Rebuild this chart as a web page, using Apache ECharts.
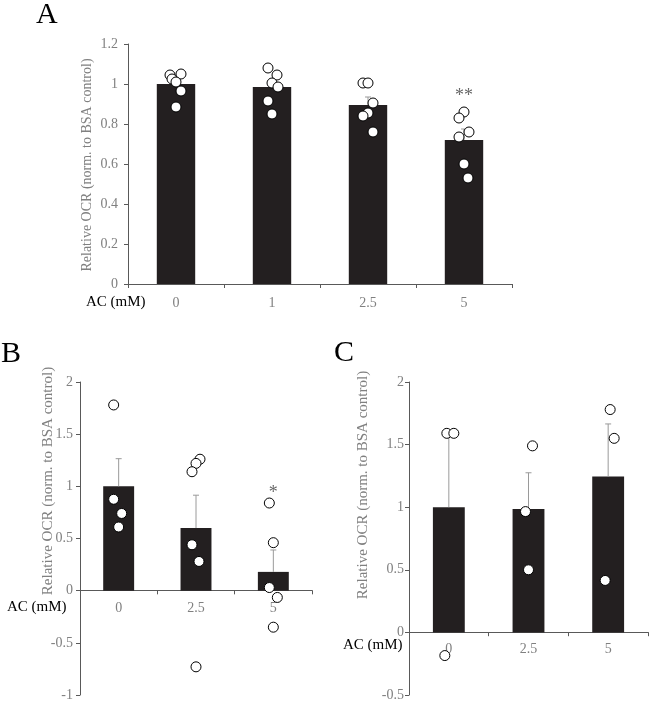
<!DOCTYPE html>
<html>
<head>
<meta charset="utf-8">
<script src="https://cdn.jsdelivr.net/npm/echarts@6/dist/echarts.min.js"></script>
<style>html,body{margin:0;padding:0;background:#fff;}#chart{width:650px;height:702px;}</style>
</head>
<body>
<div id="chart"></div>
<script>
// ---------- data ----------
const catsA = ['0', '1', '2.5', '5'];
const meanA = [1.0, 0.985, 0.895, 0.72];
const semA = [0.03, 0.035, 0.04, 0.055];
const pointsA = [
  [1.045, 1.05, 1.025, 1.01, 0.965, 0.885],
  [1.08, 1.045, 1.005, 0.985, 0.915, 0.85],
  [1.005, 1.005, 0.905, 0.855, 0.84, 0.76],
  [0.86, 0.83, 0.76, 0.735, 0.60, 0.53]
];
const sigA = ['', '', '', '**'];

const catsB = ['0', '2.5', '5'];
const meanB = [1.0, 0.6, 0.18];
const semB = [0.265, 0.315, 0.21];
const pointsB = [
  [1.78, 0.876, 0.74, 0.61],
  [1.26, 1.22, 1.14, 0.44, 0.28, -0.73],
  [0.84, 0.46, 0.03, -0.065, -0.35]
];
const sigB = ['', '', '*'];

const catsC = ['0', '2.5', '5'];
const meanC = [1.0, 0.985, 1.245];
const semC = [0.6, 0.29, 0.42];
const pointsC = [
  [1.59, 1.59, -0.185],
  [1.49, 0.965, 0.5],
  [1.78, 1.55, 0.415]
];

const yTicksA = { min: 0, max: 1.2, interval: 0.2 };
const yTicksB = { min: -1, max: 2, interval: 0.5 };
const yTicksC = { min: -0.5, max: 2, interval: 0.5 };

const yName = 'Relative OCR (norm. to BSA control)';
const xName = 'AC (mM)';

// ---------- styling (jitter in px, not data) ----------
const jitterA = [[-6, 5, -4, 0, 5, 0], [-4, 5, 0, 6, -4, 0], [-5, 0, 5, 0, -5, 5], [0, -5, 5, -5, 0, 4]];
const jitterB = [[-5, -5, 3, 0], [4, 0, -4, -4, 3, 0], [-4, 0, -4, 4, 0]];
const jitterC = [[-2, 5, -4], [4, -3, 0], [2, 6, -3]];

const FONT = '"Liberation Serif", "DejaVu Serif", serif';
const AXIS = '#595959';
const GRAY = '#808080';
const BAR = '#231f20';

const gridsPx = [
  { left: 128, top: 44, width: 384, height: 240 },
  { left: 80, top: 382, width: 232, height: 314 },
  { left: 409, top: 382, width: 239, height: 314 }
];

const chart = echarts.init(document.getElementById('chart'), null, { renderer: 'canvas' });

function xAxisCfg(cats, gi, t, margin) {
  // place the category axis at value 0 of the y scale
  const off = -gridsPx[gi].height * (0 - t.min) / (t.max - t.min);
  return {
    type: 'category', data: cats, gridIndex: gi, position: 'bottom', offset: off,
    axisLine: { onZero: false, lineStyle: { color: AXIS, width: 1 } },
    axisTick: { show: true, length: 4, lineStyle: { color: AXIS } },
    axisLabel: { color: GRAY, fontFamily: FONT, fontSize: 14, margin: margin },
    splitLine: { show: false }
  };
}
function yAxisCfg(t, gi, margin) {
  return {
    type: 'value', gridIndex: gi, min: t.min, max: t.max, interval: t.interval,
    axisLine: { show: true, lineStyle: { color: AXIS, width: 1 } },
    axisTick: { show: true, length: 4, lineStyle: { color: AXIS } },
    axisLabel: { color: GRAY, fontFamily: FONT, fontSize: 14, margin: margin },
    splitLine: { show: false }
  };
}
function barSeries(mean, gi) {
  return { type: 'bar', xAxisIndex: gi, yAxisIndex: gi, data: mean, barWidth: '40%',
    itemStyle: { color: BAR }, z: 2, silent: true };
}
function errSeries(mean, sem, gi) {
  return {
    type: 'custom', xAxisIndex: gi, yAxisIndex: gi, z: 3, silent: true,
    data: mean.map((m, i) => [i, m, sem[i]]),
    renderItem: function (params, api) {
      const x = api.value(0), m = api.value(1), s = api.value(2);
      const p0 = api.coord([x, m]);
      const p1 = api.coord([x, m + s]);
      const st = { stroke: '#9a9a9a', lineWidth: 1 };
      return { type: 'group', children: [
        { type: 'line', shape: { x1: p0[0], y1: p0[1], x2: p1[0], y2: p1[1] }, style: st },
        { type: 'line', shape: { x1: p1[0] - 3, y1: p1[1], x2: p1[0] + 3, y2: p1[1] }, style: st }
      ] };
    }
  };
}
function ptSeries(points, jitter, gi) {
  const data = [];
  points.forEach((arr, i) => arr.forEach((v, j) => {
    data.push({ value: [i, v], symbolOffset: [jitter[i][j], 0] });
  }));
  return { type: 'scatter', xAxisIndex: gi, yAxisIndex: gi, data: data, symbol: 'circle',
    symbolSize: 10, itemStyle: { color: '#fff', borderColor: '#000', borderWidth: 1, opacity: 1 },
    z: 4, silent: true };
}
function sigSeries(sig, level, gi) {
  const data = [];
  sig.forEach((s, i) => { if (s) data.push({ value: [i, level], name: s }); });
  return { type: 'scatter', xAxisIndex: gi, yAxisIndex: gi, data: data, symbolSize: 0, z: 5, silent: true,
    label: { show: true, position: 'inside', formatter: p => p.name, fontFamily: FONT, fontSize: 18, color: '#404040' } };
}
function txt(text, x, y, size, color) {
  return { type: 'text', x: x, y: y,
    style: { text: text, fontFamily: FONT, fontSize: size, fill: color, align: 'left', verticalAlign: 'middle' } };
}
function vtxt(text, x, y, size) {
  return { type: 'text', x: x, y: y, rotation: Math.PI / 2,
    style: { text: text, fontFamily: FONT, fontSize: size, fill: GRAY, align: 'center', verticalAlign: 'middle' } };
}

const option = {
  backgroundColor: '#fff',
  animation: false,
  textStyle: { fontFamily: FONT },
  grid: gridsPx,
  xAxis: [xAxisCfg(catsA, 0, yTicksA, 12), xAxisCfg(catsB, 1, yTicksB, 11), xAxisCfg(catsC, 2, yTicksC, 10)],
  yAxis: [yAxisCfg(yTicksA, 0, 10), yAxisCfg(yTicksB, 1, 7), yAxisCfg(yTicksC, 2, 5)],
  series: [
    barSeries(meanA, 0), errSeries(meanA, semA, 0), ptSeries(pointsA, jitterA, 0), sigSeries(sigA, 0.94, 0),
    barSeries(meanB, 1), errSeries(meanB, semB, 1), ptSeries(pointsB, jitterB, 1), sigSeries(sigB, 0.93, 1),
    barSeries(meanC, 2), errSeries(meanC, semC, 2), ptSeries(pointsC, jitterC, 2)
  ],
  graphic: [
    txt('A', 36, 15, 30, '#000'),
    txt('B', 1, 354, 30, '#000'),
    txt('C', 334, 353, 30, '#000'),
    vtxt(yName, 87, 165, 14),
    vtxt(yName, 48, 481, 15),
    vtxt(yName, 363, 485, 15),
    txt(xName, 86, 302, 15, '#000'),
    txt(xName, 7, 607, 15, '#000'),
    txt(xName, 343, 645, 15, '#000')
  ]
};
chart.setOption(option);
</script>
</body>
</html>
